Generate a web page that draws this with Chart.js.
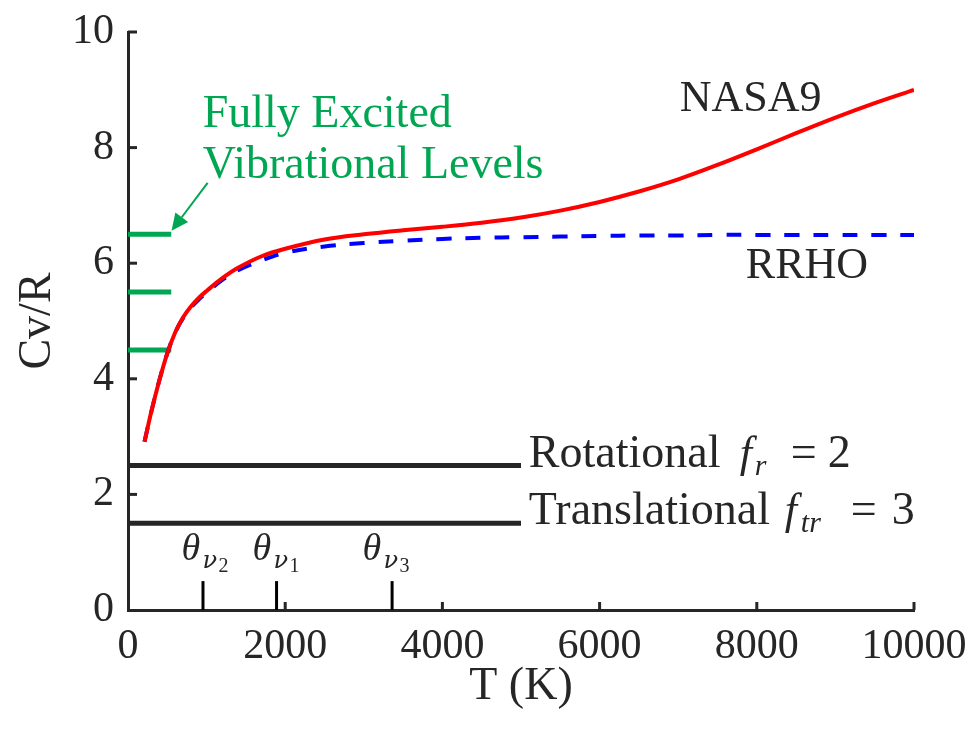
<!DOCTYPE html>
<html>
<head>
<meta charset="utf-8">
<script src="https://cdn.jsdelivr.net/npm/chart.js@4.4.0/dist/chart.umd.min.js"></script>
<style>
  html, body { margin: 0; padding: 0; background: #fff; }
</style>
</head>
<body>
<canvas id="graficoCv" width="974" height="729"></canvas>
<script>
// Temperatura (K) e Cv/R
const tempK = [210, 300, 400, 500, 600, 700, 800, 900, 1000, 1200, 1400, 1700, 2000, 2500, 3000, 3500, 4000, 4500, 5000, 5500, 6000, 6500, 7000, 7500, 8000, 8500, 9000, 9500, 10000];
const nasa9Cv = [2.91, 3.45, 3.98, 4.44, 4.80, 5.06, 5.25, 5.40, 5.52, 5.74, 5.92, 6.12, 6.25, 6.41, 6.50, 6.57, 6.63, 6.70, 6.79, 6.91, 7.06, 7.24, 7.45, 7.70, 7.97, 8.25, 8.52, 8.77, 9.00];
const rrhoCv = [2.91, 3.45, 3.98, 4.44, 4.80, 5.05, 5.23, 5.37, 5.49, 5.71, 5.88, 6.05, 6.18, 6.29, 6.35, 6.39, 6.42, 6.44, 6.45, 6.46, 6.47, 6.48, 6.48, 6.49, 6.49, 6.49, 6.49, 6.49, 6.49];

// Níveis totalmente excitados e contribuições constantes
const niveisVib = [4.5, 5.5, 6.5];
const niveisT = [0, 550];
const rotacionalCv = 2.5;
const translacionalCv = 1.5;
const constT = [0, 5000];

// Temperaturas vibracionais características
const thetaT = [954, 1890, 3360];
const thetaSub = ["2", "1", "3"];
const thetaAltura = 0.5;

const eixoX = { min: 0, max: 10000, passo: 2000 };
const eixoY = { min: 0, max: 10, passo: 2 };

const SERIF = "'Liberation Serif', 'Times New Roman', serif";
const PRETO = "#262626";
const VERDE = "#00a651";

function pontos(xs, ys) {
  return xs.map((t, i) => ({ x: t, y: ys[i] }));
}

const datasets = [
  { label: "NASA9", data: pontos(tempK, nasa9Cv), borderColor: "#ff0000", borderWidth: 4, tension: 0.35, order: 0 },
  { label: "RRHO", data: pontos(tempK, rrhoCv), borderColor: "#0000ff", borderWidth: 4, borderDash: [15, 14], tension: 0.35, order: 1 },
  { label: "Rotacional", data: pontos(constT, [rotacionalCv, rotacionalCv]), borderColor: PRETO, borderWidth: 5, order: 2 },
  { label: "Translacional", data: pontos(constT, [translacionalCv, translacionalCv]), borderColor: PRETO, borderWidth: 5, order: 2 }
];
niveisVib.forEach(v => {
  datasets.push({ label: "nivel " + v, data: pontos(niveisT, [v, v]), borderColor: VERDE, borderWidth: 5, order: 2 });
});
thetaT.forEach(t => {
  datasets.push({ label: "theta " + t, data: pontos([t, t], [0, thetaAltura]), borderColor: "#000", borderWidth: 3, order: 2 });
});

// Marcas de escala para dentro (estilo MATLAB)
const ticksInternos = {
  id: "ticksInternos",
  afterDraw(chart) {
    const { ctx, scales: { x, y } } = chart;
    ctx.save();
    ctx.strokeStyle = PRETO;
    ctx.lineWidth = 3;
    x.ticks.forEach(tk => {
      if (tk.value === 0) return;
      const px = x.getPixelForValue(tk.value);
      ctx.beginPath(); ctx.moveTo(px, y.bottom); ctx.lineTo(px, y.bottom - 8); ctx.stroke();
    });
    y.ticks.forEach(tk => {
      if (tk.value === 0) return;
      const py = y.getPixelForValue(tk.value);
      ctx.beginPath(); ctx.moveTo(x.left, py); ctx.lineTo(x.left + 9, py); ctx.stroke();
    });
    ctx.restore();
  }
};

// Desenha pedaços de texto (com subscritos) a partir de um ponto
function textoComposto(ctx, x0, y0, partes) {
  partes.forEach(p => {
    ctx.font = p.fonte;
    ctx.fillText(p.t, x0 + p.dx, y0 + (p.dy || 0));
  });
}

const anotacoes = {
  id: "anotacoes",
  afterDraw(chart) {
    const { ctx, scales: { x, y } } = chart;
    ctx.save();
    ctx.textBaseline = "alphabetic";
    ctx.textAlign = "left";
    ctx.fillStyle = PRETO;

    ctx.font = "44px " + SERIF;
    ctx.fillText("NASA9", x.getPixelForValue(7020), y.getPixelForValue(8.64));
    ctx.fillText("RRHO", x.getPixelForValue(7860), y.getPixelForValue(5.74));

    const up = "46px " + SERIF;
    const it = "italic 44px " + SERIF;
    const sub = "italic 30px " + SERIF;

    const xr = x.getPixelForValue(5100);
    textoComposto(ctx, xr, y.getPixelForValue(rotacionalCv) + 1, [
      { t: "Rotational", fonte: up, dx: 0 },
      { t: "f", fonte: it, dx: 211 },
      { t: "r", fonte: sub, dx: 226, dy: 8 },
      { t: "=", fonte: up, dx: 262 },
      { t: "2", fonte: up, dx: 299 }
    ]);
    textoComposto(ctx, xr, y.getPixelForValue(translacionalCv) + 1, [
      { t: "Translational", fonte: up, dx: 0 },
      { t: "f", fonte: it, dx: 256 },
      { t: "tr", fonte: sub, dx: 272, dy: 8 },
      { t: "=", fonte: up, dx: 322 },
      { t: "3", fonte: up, dx: 363 }
    ]);

    // rótulos theta
    const thetaX = [681, 1585, 2985];
    thetaX.forEach((tx, i) => {
      const px = x.getPixelForValue(tx);
      const py = y.getPixelForValue(0.87);
      textoComposto(ctx, px, py, [
        { t: "\u03b8", fonte: "italic 38px " + SERIF, dx: 0 },
        { t: "\u03bd", fonte: "italic 24px 'DejaVu Serif', serif", dx: 21, dy: 8 },
        { t: thetaSub[i], fonte: "20px " + SERIF, dx: 37, dy: 12 }
      ]);
    });

    // texto verde e seta
    ctx.fillStyle = VERDE;
    ctx.font = "46px " + SERIF;
    ctx.fillText("Fully Excited", x.getPixelForValue(950), y.getPixelForValue(8.36));
    ctx.fillText("Vibrational Levels", x.getPixelForValue(950), y.getPixelForValue(7.47));

    const x1 = x.getPixelForValue(1013), y1 = y.getPixelForValue(7.39);
    const x2 = x.getPixelForValue(554), y2 = y.getPixelForValue(6.56);
    const ang = Math.atan2(y2 - y1, x2 - x1);
    const cab = 17, larg = 8;
    ctx.strokeStyle = VERDE;
    ctx.lineWidth = 2;
    ctx.beginPath();
    ctx.moveTo(x1, y1);
    ctx.lineTo(x2 - cab * Math.cos(ang), y2 - cab * Math.sin(ang));
    ctx.stroke();
    ctx.beginPath();
    ctx.moveTo(x2, y2);
    ctx.lineTo(x2 - cab * Math.cos(ang) + larg * Math.sin(ang), y2 - cab * Math.sin(ang) - larg * Math.cos(ang));
    ctx.lineTo(x2 - cab * Math.cos(ang) - larg * Math.sin(ang), y2 - cab * Math.sin(ang) + larg * Math.cos(ang));
    ctx.closePath();
    ctx.fill();
    ctx.restore();
  }
};

const ctx = document.getElementById("graficoCv").getContext("2d");
const grafico = new Chart(ctx, {
  type: "line",
  data: { datasets },
  options: {
    responsive: false,
    animation: false,
    elements: { point: { radius: 0 }, line: { fill: false } },
    layout: { padding: { top: 32, right: 60, left: 0, bottom: 0 } },
    plugins: { legend: { display: false }, tooltip: { enabled: false } },
    scales: {
      x: {
        type: "linear",
        min: eixoX.min,
        max: eixoX.max,
        ticks: { stepSize: eixoX.passo, color: PRETO, font: { family: SERIF, size: 42 }, padding: 12, maxRotation: 0, callback: v => String(v) },
        grid: { display: false, drawTicks: false },
        border: { display: true, color: PRETO, width: 3 },
        title: { display: true, text: "T (K)", color: PRETO, font: { family: SERIF, size: 46 }, padding: { top: 0, bottom: 14 } },
        afterFit: s => { s.height = 119; s.paddingLeft = 0; s.paddingRight = 0; }
      },
      y: {
        min: eixoY.min,
        max: eixoY.max,
        ticks: { stepSize: eixoY.passo, color: PRETO, font: { family: SERIF, size: 42 }, padding: 14, callback: v => String(v) },
        grid: { display: false, drawTicks: false },
        border: { display: true, color: PRETO, width: 3 },
        title: { display: true, text: "Cv/R", color: PRETO, font: { family: SERIF, size: 46 }, padding: { top: 10, bottom: 0 } },
        afterFit: s => { s.width = 128; s.paddingTop = 0; s.paddingBottom = 0; }
      }
    }
  },
  plugins: [ticksInternos, anotacoes]
});
</script>
</body>
</html>
